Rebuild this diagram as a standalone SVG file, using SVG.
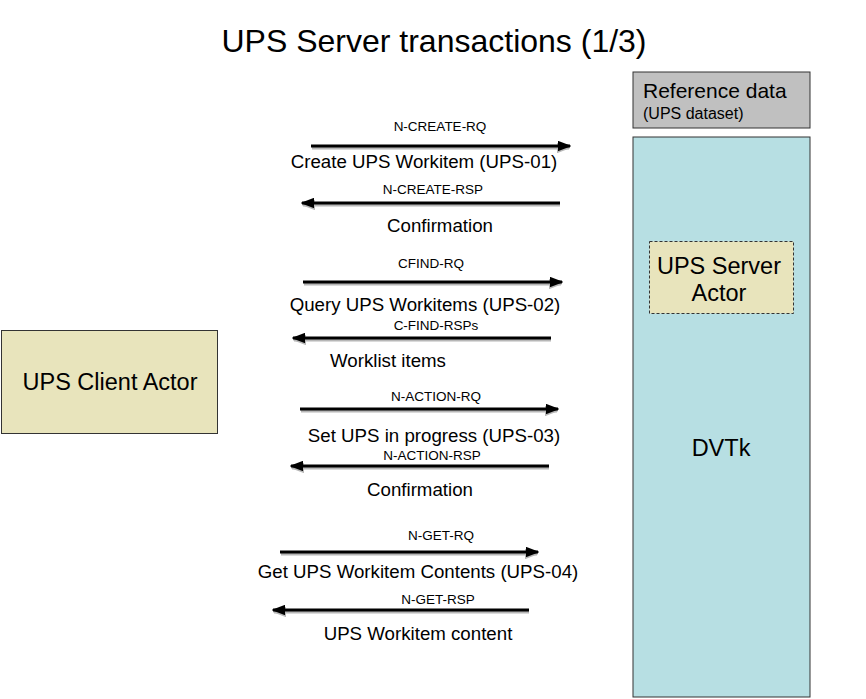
<svg xmlns="http://www.w3.org/2000/svg" width="866" height="699" viewBox="0 0 866 699">
<style>
text{font-family:"Liberation Sans",Arial,sans-serif;fill:#000}
.t{font-size:32px}
.m{font-size:18.7px;text-anchor:middle}
.s{font-size:13.5px;text-anchor:middle}
.ln{stroke:#000;stroke-width:3;fill:none}
.sh{stroke:#888;stroke-width:3;fill:none;opacity:0.6}
</style>
<defs>
<marker id="ah" viewBox="0 0 10 10" refX="9" refY="5" markerWidth="4.5" markerHeight="3.5" orient="auto" markerUnits="strokeWidth" preserveAspectRatio="none">
<path d="M0,0 L10,5 L0,10 z" fill="#000"/>
</marker>
<marker id="ahs" viewBox="0 0 10 10" refX="9" refY="5" markerWidth="4.5" markerHeight="3.5" orient="auto" markerUnits="strokeWidth" preserveAspectRatio="none">
<path d="M0,0 L10,5 L0,10 z" fill="#888"/>
</marker>
</defs>
<rect width="866" height="699" fill="#fff"/>
<text class="t" x="434" y="52" text-anchor="middle">UPS Server transactions (1/3)</text>
<g id="refdata">
<rect x="633" y="72" width="177" height="56" fill="#c0c0c0" stroke="#333" stroke-width="1"/>
<text x="643" y="98" font-size="21">Reference data</text>
<text x="643" y="119" font-size="16">(UPS dataset)</text>
</g>
<g id="dvtk">
<rect x="633" y="137" width="177" height="560" fill="#b7dfe3" stroke="#333" stroke-width="1"/>
<text x="721" y="456" font-size="23.5" text-anchor="middle">DVTk</text>
</g>
<g id="server">
<rect x="649.5" y="241.5" width="144" height="72" fill="#e8e4bc" stroke="#333" stroke-width="1" stroke-dasharray="3,2"/>
<text x="719" y="274" font-size="23.5" text-anchor="middle">UPS Server</text>
<text x="719" y="301" font-size="23.5" text-anchor="middle">Actor</text>
</g>
<g id="client">
<rect x="1.5" y="330.5" width="216" height="103" fill="#e8e4bc" stroke="#333" stroke-width="1"/>
<text x="110" y="390" font-size="23.5" text-anchor="middle">UPS Client Actor</text>
</g>
<g id="connectors">
<line class="sh" x1="312" y1="148" x2="569" y2="148" marker-end="url(#ahs)"/>
<line class="ln" x1="311" y1="146" x2="570" y2="146" marker-end="url(#ah)"/>
<line class="sh" x1="560" y1="205" x2="303" y2="205" marker-end="url(#ahs)"/>
<line class="ln" x1="560" y1="203" x2="302" y2="203" marker-end="url(#ah)"/>
<line class="sh" x1="304" y1="284" x2="561" y2="284" marker-end="url(#ahs)"/>
<line class="ln" x1="303" y1="282" x2="562" y2="282" marker-end="url(#ah)"/>
<line class="sh" x1="551" y1="340" x2="294" y2="340" marker-end="url(#ahs)"/>
<line class="ln" x1="551" y1="338" x2="293" y2="338" marker-end="url(#ah)"/>
<line class="sh" x1="301" y1="411" x2="557" y2="411" marker-end="url(#ahs)"/>
<line class="ln" x1="300" y1="409" x2="558" y2="409" marker-end="url(#ah)"/>
<line class="sh" x1="549" y1="468" x2="292" y2="468" marker-end="url(#ahs)"/>
<line class="ln" x1="549" y1="466" x2="291" y2="466" marker-end="url(#ah)"/>
<line class="sh" x1="281" y1="554" x2="537" y2="554" marker-end="url(#ahs)"/>
<line class="ln" x1="280" y1="552" x2="538" y2="552" marker-end="url(#ah)"/>
<line class="sh" x1="529" y1="612" x2="274" y2="612" marker-end="url(#ahs)"/>
<line class="ln" x1="529" y1="610" x2="273" y2="610" marker-end="url(#ah)"/>
</g>
<g id="labels">
<text class="s" x="440" y="131">N-CREATE-RQ</text>
<text class="m" x="424" y="168">Create UPS Workitem (UPS-01)</text>
<text class="s" x="433" y="194">N-CREATE-RSP</text>
<text class="m" x="440" y="232">Confirmation</text>
<text class="s" x="431" y="268">CFIND-RQ</text>
<text class="m" x="425" y="311">Query UPS Workitems (UPS-02)</text>
<text class="s" x="436" y="330">C-FIND-RSPs</text>
<text class="m" x="388" y="367">Worklist items</text>
<text class="s" x="436" y="401">N-ACTION-RQ</text>
<text class="m" x="434" y="442">Set UPS in progress (UPS-03)</text>
<text class="s" x="432" y="460">N-ACTION-RSP</text>
<text class="m" x="420" y="496">Confirmation</text>
<text class="s" x="441" y="540">N-GET-RQ</text>
<text class="m" x="418" y="578">Get UPS Workitem Contents (UPS-04)</text>
<text class="s" x="438" y="604">N-GET-RSP</text>
<text class="m" x="418" y="640">UPS Workitem content</text>
</g>
</svg>
